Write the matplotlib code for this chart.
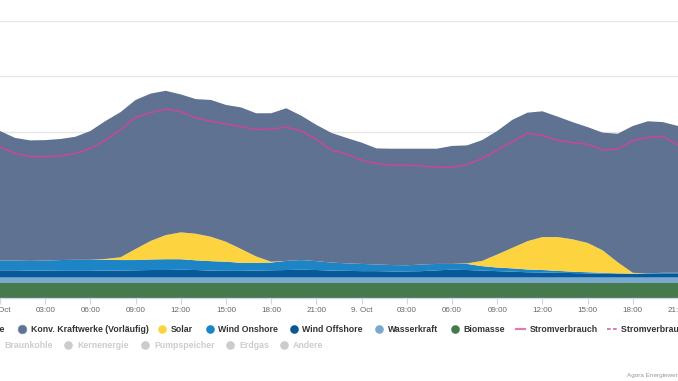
#Program to redraw the Agorameter chart for 8./9. Oct.
import matplotlib
matplotlib.use("Agg")
import matplotlib.pyplot as plt
from matplotlib.lines import Line2D

# Hours since 8. Oct 00:00
hours = list(range(47))

# Generation in GW, bottom layer first
biomasse = [5.3] * 47
wasserkraft = [2.2] * 47
wind_offshore = [2.5, 2.5, 2.4, 2.4, 2.3, 2.3, 2.3, 2.4, 2.4, 2.5, 2.6, 2.6, 2.7, 2.6, 2.4, 2.3,
                 2.3, 2.4, 2.5, 2.6, 2.7, 2.6, 2.4, 2.3, 2.2, 2.2, 2.1, 2.1, 2.2, 2.5, 2.7, 2.6,
                 2.4, 2.2, 2.0, 1.8, 1.7, 1.6, 1.5, 1.4, 1.3, 1.2, 1.2, 1.3, 1.4, 1.4, 1.4]
wind_onshore = [3.5, 3.5, 3.5, 3.6, 3.9, 4.0, 4.0, 3.9, 3.8, 3.7, 3.8, 3.9, 3.8, 3.5, 3.4, 3.3,
                2.9, 2.8, 2.8, 3.3, 3.5, 3.2, 2.9, 2.7, 2.6, 2.4, 2.3, 2.2, 2.4, 2.3, 2.1, 2.2,
                1.6, 1.3, 1.2, 1.0, 0.9, 0.7, 0.5, 0.4, 0.3, 0.2, 0.1, 0.1, 0.2, 0.2, 0.2]
solar = [0, 0, 0, 0, 0, 0, 0, 0.3, 1.0, 4.0, 6.7, 8.7, 9.7, 9.6, 8.8, 7.2,
         5.0, 2.3, 0.3, 0, 0, 0, 0, 0, 0, 0, 0, 0, 0, 0, 0, 0.2,
         1.9, 4.7, 7.4, 10.2, 11.9, 12.2, 11.7, 10.6, 8.1, 4.0, 0.3, 0, 0, 0, 0]
konv = [46.8, 44.3, 43.5, 43.5, 43.7, 44.4, 46.5, 49.8, 52.4, 53.8, 53.2, 52.1, 49.8, 48.6, 49.4, 49.4,
        51.1, 51.7, 53.6, 55.1, 52.1, 49.2, 46.8, 45.3, 43.8, 41.9, 42.0, 42.1, 41.8, 41.6, 42.6, 42.6,
        43.6, 44.6, 46.2, 46.4, 45.4, 43.5, 42.3, 41.8, 42.5, 46.4, 53.0, 54.9, 54.4, 53.0, 51.5]

# Consumption in GW
stromverbrauch = [54.5, 52.2, 51.1, 51.0, 51.3, 52.2, 54.0, 57.0, 60.8, 65.3, 66.9, 68.2, 67.3, 65.0, 63.8, 62.8,
                  61.9, 60.8, 61.0, 61.7, 60.3, 57.3, 53.4, 52.0, 49.8, 48.6, 47.9, 47.9, 47.7, 47.2, 47.2, 48.1,
                  50.4, 53.4, 56.4, 59.5, 58.7, 57.0, 56.1, 55.5, 53.4, 53.8, 56.8, 58.0, 58.4, 55.2, 53.4]

tick_hours = list(range(0, 46, 3))
tick_labels = ["8. Oct", "03:00", "06:00", "09:00", "12:00", "15:00", "18:00", "21:00",
               "9. Oct", "03:00", "06:00", "09:00", "12:00", "15:00", "18:00", "21:00"]

W, H = 678, 381


def fx(x):
    return x / W


def fy(y):
    return 1 - y / H


def main():
    fig = plt.figure(figsize=(W / 100, H / 100), dpi=100)
    ax = fig.add_axes([0, fy(298), 1, (298 - 21) / H])

    colors = ["#467a4c", "#7aa9d0", "#07599a", "#1d84c6", "#fdd43f", "#5f7291"]
    ax.stackplot(hours, biomasse, wasserkraft, wind_offshore, wind_onshore, solar, konv,
                 colors=colors, linewidth=0, zorder=2)
    ax.plot(hours, stromverbrauch, color="#c9479a", lw=1.1, zorder=3)

    ax.set_xlim(0.44, 44.96)
    ax.set_ylim(0, 100)
    ax.set_yticks([0, 20, 40, 60, 80, 100])
    ax.set_yticklabels([])
    ax.yaxis.grid(True, color="#e6e6e6", lw=1, zorder=0)
    ax.tick_params(axis="y", length=0)

    ax.set_xticks(tick_hours)
    ax.set_xticklabels(tick_labels, fontsize=5.8, color="#666666", family="Liberation Sans")
    ax.tick_params(axis="x", length=4, width=0.8, color="#ccd6eb", pad=2.5)

    for side in ["top", "left", "right"]:
        ax.spines[side].set_visible(False)
    ax.spines["bottom"].set_color("#ccd6eb")
    ax.spines["bottom"].set_linewidth(0.9)

    # Legend, drawn by hand because it is cut at both edges
    font = dict(fontsize=6.3, fontweight="bold", family="Liberation Sans", va="center")
    row1 = 329
    row2 = 345
    fig.text(fx(4.5), fy(row1), "Importe", ha="right", color="#333333", **font)
    items1 = [(22, "Konv. Kraftwerke (Vorläufig)", "#5f7291"),
              (162, "Solar", "#fdd43f"),
              (210, "Wind Onshore", "#1d84c6"),
              (294, "Wind Offshore", "#07599a"),
              (379, "Wasserkraft", "#7aa9d0"),
              (455, "Biomasse", "#467a4c")]
    for x, label, c in items1:
        fig.add_artist(Line2D([fx(x)], [fy(row1)], marker="o", markersize=6.2, color=c,
                              markeredgewidth=0, transform=fig.transFigure))
        fig.text(fx(x + 8.5), fy(row1), label, ha="left", color="#333333", **font)
    # hatched look of the Konv. marker
    fig.add_artist(Line2D([fx(22)], [fy(row1)], marker="o", markersize=6.2, color="none",
                          markeredgecolor="#8090aa", markeredgewidth=0.6,
                          transform=fig.transFigure))

    fig.add_artist(Line2D([fx(516), fx(525)], [fy(row1), fy(row1)], color="#e07ab8", lw=1.6,
                          transform=fig.transFigure))
    fig.text(fx(530), fy(row1), "Stromverbrauch", ha="left", color="#333333", **font)
    fig.add_artist(Line2D([fx(607), fx(617)], [fy(row1), fy(row1)], color="#e07ab8", lw=1.4,
                          ls=(0, (1.9, 1.2)), transform=fig.transFigure))
    fig.text(fx(621), fy(row1), "Stromverbrauch (Prognose)", ha="left", color="#333333", **font)

    items2 = [(-5, "Braunkohle"), (68, "Kernenergie"), (145, "Pumpspeicher"),
              (230, "Erdgas"), (284, "Andere")]
    for x, label in items2:
        fig.add_artist(Line2D([fx(x)], [fy(row2)], marker="o", markersize=6.2, color="#cccccc",
                              markeredgewidth=0, transform=fig.transFigure))
        fig.text(fx(x + 9), fy(row2), label, ha="left", color="#cccccc", **font)

    fig.text(fx(627), fy(375), "Agora Energiewende", ha="left", va="center",
             fontsize=4.6, color="#999999", family="Liberation Sans")

    fig.savefig("out.png", dpi=100)


if __name__ == '__main__':
    main()
